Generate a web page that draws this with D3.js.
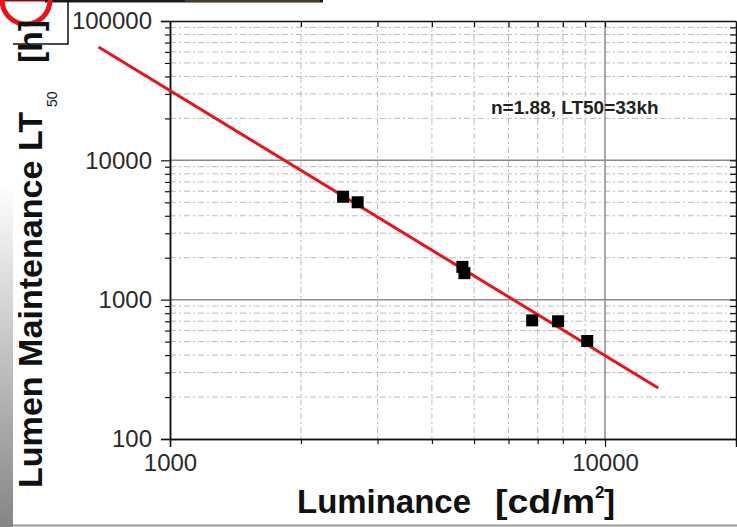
<!DOCTYPE html>
<html>
<head>
<meta charset="utf-8">
<script src="https://cdn.jsdelivr.net/npm/d3@7"></script>
<style>
  body { margin: 0; background: #fff; }
  svg { display: block; font-family: Arial, "Liberation Sans", sans-serif; }
</style>
</head>
<body>
<svg></svg>
<script>
// measured points (luminance cd/m2 -> LT50 hours)
const luminance = [2500, 2700, 4700, 4750, 6800, 7800, 9100];
const lifetime  = [5480, 5000, 1720, 1550, 710, 700, 505];

// fitted power law, two ends as drawn
const fitLum = [685, 13250];
const fitLT  = [65000, 232];

const xMajor = [1000, 10000];
const yMajor = [100, 1000, 10000, 100000];
const note = "n=1.88, LT50=33kh";

const margins = {t: 21, r: 1, b: 88, l: 170};
const SVGsize = {w: 737, h: 527};
const size = {
    w: SVGsize.w - margins.l - margins.r,
    h: SVGsize.h - margins.t - margins.b
};

const svg = d3.select('svg')
    .attr('width', SVGsize.w)
    .attr('height', SVGsize.h);

// page decoration (left strip, frame bits)
const grad = svg.append('defs').append('linearGradient')
    .attr('id', 'strip').attr('x1', 0).attr('x2', 0).attr('y1', 0).attr('y2', 1);
grad.append('stop').attr('offset', '0.35').attr('stop-color', '#ffffff');
grad.append('stop').attr('offset', '1').attr('stop-color', '#858585');
svg.append('rect').attr('x', 0).attr('y', 0).attr('width', 13).attr('height', SVGsize.h)
    .attr('fill', 'url(#strip)');
svg.append('line').attr('x1', 13).attr('x2', SVGsize.w).attr('y1', 525.5).attr('y2', 525.5)
    .attr('stroke', '#9a9a9a').attr('stroke-width', 2);
svg.append('line').attr('x1', 45).attr('x2', 323).attr('y1', 1).attr('y2', 1)
    .attr('stroke', '#1a1a1a').attr('stroke-width', 3);
svg.append('rect').attr('x', 185).attr('y', 0).attr('width', 135).attr('height', 2)
    .attr('fill', '#4a3d28');
svg.append('line').attr('x1', 0).attr('x2', 45).attr('y1', 0.5).attr('y2', 0.5)
    .attr('stroke', '#8a1010').attr('stroke-width', 2);
svg.append('circle').attr('cx', 26).attr('cy', 0).attr('r', 24)
    .attr('fill', 'none').attr('stroke', '#e8141c').attr('stroke-width', 5);
svg.append('path').attr('d', 'M13,44H68V0')
    .attr('fill', 'none').attr('stroke', '#111').attr('stroke-width', 1.5);

const containerG = svg.append('g')
    .attr('transform', `translate(${margins.l}, ${margins.t})`);

// scales
const scaleX = d3.scaleLog().domain([1000, 20000]).range([0, size.w]);
const scaleY = d3.scaleLog().domain([100, 100000]).range([size.h, 0]);

const xMinor = scaleX.ticks().filter(d => !xMajor.includes(d) && d < 20000);
const yMinor = scaleY.ticks().filter(d => !yMajor.includes(d));

// grid
containerG.append('g').selectAll('line').data(xMinor).enter().append('line')
    .attr('x1', d => scaleX(d)).attr('x2', d => scaleX(d))
    .attr('y1', 0).attr('y2', size.h)
    .attr('stroke', '#b8b8b8').attr('stroke-width', 1).attr('stroke-dasharray', '6,3,2,3');
containerG.append('g').selectAll('line').data(yMinor).enter().append('line')
    .attr('y1', d => scaleY(d)).attr('y2', d => scaleY(d))
    .attr('x1', 0).attr('x2', size.w)
    .attr('stroke', '#b8b8b8').attr('stroke-width', 1).attr('stroke-dasharray', '6,3,2,3');
containerG.append('g').selectAll('line').data([10000]).enter().append('line')
    .attr('x1', d => scaleX(d)).attr('x2', d => scaleX(d))
    .attr('y1', 0).attr('y2', size.h)
    .attr('stroke', '#8a8a8a').attr('stroke-width', 1.5);
containerG.append('g').selectAll('line').data([1000, 10000]).enter().append('line')
    .attr('y1', d => scaleY(d)).attr('y2', d => scaleY(d))
    .attr('x1', 0).attr('x2', size.w)
    .attr('stroke', '#8a8a8a').attr('stroke-width', 1.5);

// axes
function styleAxis(g) {
    g.select('.domain').attr('stroke', '#111').attr('stroke-width', 1.5);
    g.selectAll('.tick line').attr('stroke', '#111').attr('stroke-width', 1.2);
    g.selectAll('.tick text').attr('fill', '#2a2a2a').attr('font-size', 24);
}
const fmt = d3.format('d');

containerG.append('g')
    .attr('transform', `translate(0, ${size.h})`)
    .call(d3.axisBottom(scaleX).tickValues(xMajor).tickFormat(fmt).tickSize(8).tickPadding(7))
    .call(styleAxis);
containerG.append('g')
    .attr('transform', `translate(0, ${size.h})`)
    .call(d3.axisBottom(scaleX).tickValues(xMinor).tickFormat('').tickSize(5).tickSizeOuter(0))
    .call(styleAxis);
containerG.append('g')
    .call(d3.axisLeft(scaleY).tickValues(yMajor).tickFormat(fmt).tickSize(9).tickPadding(9))
    .call(styleAxis);
containerG.append('g')
    .call(d3.axisLeft(scaleY).tickValues(yMinor).tickFormat('').tickSize(5).tickSizeOuter(0))
    .call(styleAxis);
// mirrored ticks pointing inward
containerG.append('g')
    .call(d3.axisBottom(scaleX).tickValues(xMinor.concat([10000])).tickFormat('').tickSize(6).tickSizeOuter(0))
    .call(styleAxis);
containerG.append('g')
    .attr('transform', `translate(${size.w}, 0)`)
    .call(d3.axisLeft(scaleY).tickValues(yMinor.concat([1000, 10000])).tickFormat('').tickSize(6).tickSizeOuter(0))
    .call(styleAxis);

// fit line (not clipped, runs past the left axis)
containerG.append('path')
    .datum(fitLum.map((d, i) => [d, fitLT[i]]))
    .attr('fill', 'none')
    .attr('stroke', '#e8141c')
    .attr('stroke-width', 3)
    .attr('d', d3.line().x(d => scaleX(d[0])).y(d => scaleY(d[1])));

// squares
containerG.selectAll('.pt')
    .data(luminance.map((d, i) => [d, lifetime[i]]))
    .enter()
    .append('rect')
        .attr('class', 'pt')
        .attr('x', d => scaleX(d[0]) - 6)
        .attr('y', d => scaleY(d[1]) - 6)
        .attr('width', 12)
        .attr('height', 12)
        .attr('fill', '#000');

// annotation
svg.append('text')
    .attr('x', 491).attr('y', 114)
    .attr('font-size', 19).attr('font-weight', 'bold').attr('fill', '#222')
    .text(note);

// axis titles
const titleG = svg.append('g')
    .attr('font-weight', 'bold').attr('fill', '#111');

titleG.append('text').attr('x', 297).attr('y', 513).attr('font-size', 33)
    .attr('textLength', 174).attr('lengthAdjust', 'spacingAndGlyphs')
    .text('Luminance');
titleG.append('text').attr('x', 495).attr('y', 513).attr('font-size', 33)
    .attr('textLength', 100).attr('lengthAdjust', 'spacingAndGlyphs')
    .text('[cd/m');
titleG.append('text').attr('x', 595).attr('y', 498).attr('font-size', 17).text('2');
titleG.append('text').attr('x', 604).attr('y', 513).attr('font-size', 33).text(']');

const yt = titleG.append('g')
    .attr('transform', 'translate(42, 488) rotate(-90)');
yt.append('text').attr('x', 0).attr('y', 0).attr('font-size', 33)
    .attr('textLength', 376).attr('lengthAdjust', 'spacingAndGlyphs')
    .text('Lumen Maintenance LT');
yt.append('text').attr('x', 381).attr('y', 15).attr('font-size', 14)
    .attr('font-weight', 'normal').text('50');
yt.append('text').attr('x', 425).attr('y', 0).attr('font-size', 33)
    .attr('textLength', 43).attr('lengthAdjust', 'spacingAndGlyphs')
    .text('[h]');
</script>
</body>
</html>
